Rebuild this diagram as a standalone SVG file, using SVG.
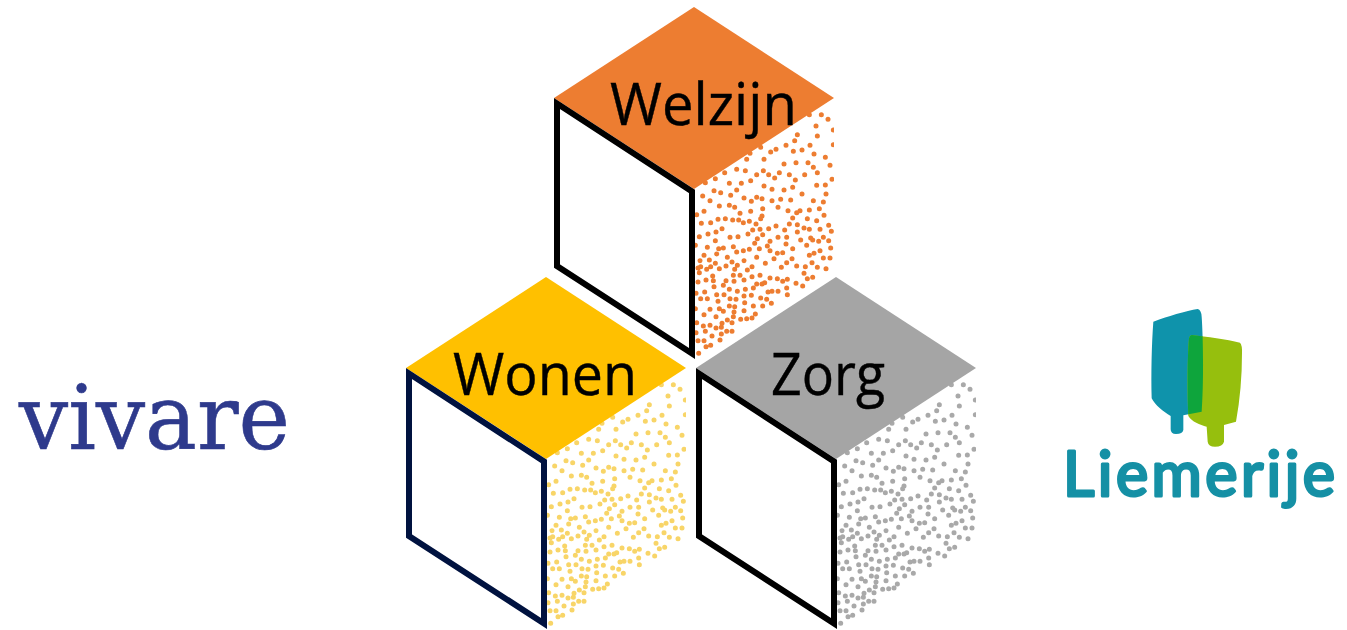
<svg xmlns="http://www.w3.org/2000/svg" width="1347" height="630" viewBox="0 0 1347 630">
<style>
.lbl{font-family:"Open Sans","Noto Sans",sans-serif;font-size:58px;fill:#000;stroke:#000;stroke-width:.4}
.face{fill:#fff;stroke-width:6;stroke-linejoin:miter}
.dots{fill:none;stroke-width:15;stroke-linecap:round}
</style>
<defs>
<polygon id="top" points="694,7 834,98 694,189 554,98"/>
<polygon id="left" points="557,103.500 692,191.500 692,353.500 557,266"/>
<path id="d" transform="translate(540 0) scale(.33333)" d="M844 344h.1M864 358h.1M808 344h.1M828 378h.1M880 390h.1M772 404h.1M764 422h.1M832 408h.1M880 434h.1M738 436h.1M810 436h.1M786 450h.1M760 454h.1M708 448h.1M692 456h.1M662 442h.1M630 460h.1M822 462h.1M856 472h.1M672 478h.1M620 478h.1M768 488h.1M732 492h.1M804 488h.1M870 496h.1M820 502h.1M590 508h.1M616 512h.1M554 518h.1M650 524h.1M670 512h.1M686 524h.1M718 518h.1M704 534h.1M748 524h.1M794 524h.1M832 518h.1M876 538h.1M632 542h.1M496 548h.1M526 536h.1M568 550h.1M604 550h.1M590 570h.1M672 558h.1M696 568h.1M830 556h.1M856 555h.1M732 570h.1M766 540h.1M758 562h.1M786 582h.1M522 572h.1M542 578h.1M488 588h.1M572 586h.1M612 594h.1M650 592h.1M666 596h.1M696 602h.1M722 598h.1M752 600h.1M858 582h.1M510 602h.1M538 618h.1M568 616h.1M584 622h.1M634 604h.1M850 606h.1M820 602h.1M714 622h.1M668 626h.1M744 632h.1M770 638h.1M780 632h.1M808 630h.1M838 626h.1M492 634h.1M470 644h.1M600 640h.1M666 648h.1M632 634h.1M802 656h.1M758 654h.1M852 646h.1M534 658h.1M556 656h.1M578 660h.1M596 660h.1M610 668h.1M628 664h.1M648 672h.1M662 656h.1M512 668h.1M484 670h.1M830 662h.1M866 676h.1M708 678h.1M748 672h.1M772 674h.1M792 684h.1M808 688h.1M840 688h.1M546 686h.1M528 696h.1M638 690h.1M660 688h.1M686 686h.1M734 690h.1M772 696h.1M850 712h.1M812 714h.1M504 702h.1M478 710h.1M570 712h.1M594 710h.1M624 702h.1M668 704h.1M714 712h.1M740 712h.1M782 720h.1M874 694h.1M526 722h.1M652 716h.1M690 724h.1M818 720h.1M836 724h.1M866 722h.1M644 730h.1M682 738h.1M758 746h.1M738 732h.1M800 736h.1M580 740h.1M550 744h.1M536 746h.1M502 742h.1M466 736h.1M628 748h.1M610 752h.1M590 756h.1M658 746h.1M690 752h.1M712 760h.1M728 758h.1M840 752h.1M822 760h.1M808 766h.1M872 744h.1M530 762h.1M562 772h.1M492 766h.1M650 772h.1M756 776h.1M702 776h.1M850 774h.1M870 774h.1M480 782h.1M508 780h.1M526 790h.1M576 786h.1M592 796h.1M612 782h.1M676 790h.1M740 788h.1M816 788h.1M832 802h.1M858 806h.1M796 800h.1M770 798h.1M512 800h.1M482 800h.1M538 806h.1M558 798h.1M500 808h.1M584 808h.1M622 810h.1M636 800h.1M724 802h.1M478 818h.1M474 804h.1M660 826h.1M636 830h.1M580 826h.1M600 826h.1M712 836h.1M690 834h.1M742 838h.1M728 844h.1M818 832h.1M792 820h.1M802 836h.1M518 828h.1M474 846h.1M498 840h.1M520 842h.1M558 842h.1M582 844h.1M612 840h.1M674 848h.1M666 852h.1M650 852h.1M768 850h.1M740 864h.1M788 858h.1M550 856h.1M522 860h.1M494 876h.1M468 880h.1M568 868h.1M592 874h.1M616 868h.1M640 864h.1M684 876h.1M696 874h.1M714 874h.1M530 884h.1M552 884h.1M502 896h.1M482 896h.1M612 888h.1M634 886h.1M662 894h.1M680 898h.1M694 910h.1M742 884h.1M570 896h.1M534 904h.1M588 898h.1M614 908h.1M640 918h.1M668 918h.1M466 926h.1M510 928h.1M538 926h.1M568 918h.1M584 920h.1M550 934h.1M582 936h.1M612 932h.1M646 942h.1M492 944h.1M528 950h.1M580 950h.1M636 954h.1M620 956h.1M602 958h.1M470 968h.1M490 978h.1M510 976h.1M546 970h.1M562 960h.1M576 968h.1M544 982h.1M528 984h.1M496 994h.1M560 994h.1M576 994h.1M516 1008h.1M544 1002h.1M468 998h.1M474 1022h.1M492 1022h.1M512 1036h.1M498 1040h.1M476 1060h.1M540 1020h.1"/>
<clipPath id="sq"><rect x="694" y="100" width="140" height="262"/></clipPath>
<clipPath id="tealclip"><path d="M340 95C380 80 440 62 473 57Q484 60 485 80C490 150 491 280 485 365L430 376 430 420Q428 432 408 432 392 432 392 418L392 378 C370 365 345 345 335 325 333 250 335 160 340 95Z"/></clipPath>
</defs>
<g id="connectors"/>
<g id="node-welzijn">
<g clip-path="url(#sq)"><use href="#d" class="dots" stroke="#ed7d31"/></g>
<use href="#top" fill="#ed7d31"/>
<use href="#left" class="face" stroke="#000"/>
<text class="lbl" x="610" y="125" textLength="187" lengthAdjust="spacingAndGlyphs">Welzijn</text>
</g>
<g id="node-wonen">
<g transform="translate(-148 270)">
<g clip-path="url(#sq)"><use href="#d" class="dots" stroke="#f8d568"/></g>
<use href="#top" fill="#ffc000"/>
<use href="#left" class="face" stroke="#00123f"/>
</g>
<text class="lbl" x="453" y="395" textLength="184" lengthAdjust="spacingAndGlyphs">Wonen</text>
</g>
<g id="node-zorg">
<g transform="translate(142 270)">
<g clip-path="url(#sq)"><use href="#d" class="dots" stroke="#a9a9a9"/></g>
<use href="#top" fill="#a5a5a5"/>
<use href="#left" class="face" stroke="#000"/>
</g>
<text class="lbl" x="771" y="395" textLength="114" lengthAdjust="spacingAndGlyphs">Zorg</text>
</g>
<g id="logo-vivare">
<text x="19" y="449" font-family="'DejaVu Serif',serif" font-size="90" fill="#2e3a8c" stroke="#2e3a8c" stroke-width=".6" textLength="271" lengthAdjust="spacingAndGlyphs">vivare</text>
</g>
<g id="logo-liemerije">
<g transform="translate(1040 290) scale(.33333)">
<path fill="#0f93ab" d="M340 95C380 80 440 62 473 57Q484 60 485 80C490 150 491 280 485 365L430 376 430 420Q428 432 408 432 392 432 392 418L392 378 C370 365 345 345 335 325 333 250 335 160 340 95Z"/>
<path fill="#96bf0d" d="M455 135C500 140 560 148 600 158Q607 165 606 190C606 260 600 330 588 395L552 405 552 455Q548 470 525 470 505 470 503 455L500 410C480 405 455 395 445 378 442 300 442 200 447 145Q449 136 455 135Z"/>
<path fill="#0ea53c" clip-path="url(#tealclip)" d="M455 135C500 140 560 148 600 158Q607 165 606 190C606 260 600 330 588 395L552 405 552 455Q548 470 525 470 505 470 503 455L500 410C480 405 455 395 445 378 442 300 442 200 447 145Q449 136 455 135Z"/>
</g>
<text x="1063" y="496" font-family="Lato,sans-serif" font-weight="400" font-size="61" fill="#1590a5" stroke="#1590a5" stroke-width="3" stroke-linejoin="round" textLength="272" lengthAdjust="spacing">Liemerije</text>
</g>
</svg>
